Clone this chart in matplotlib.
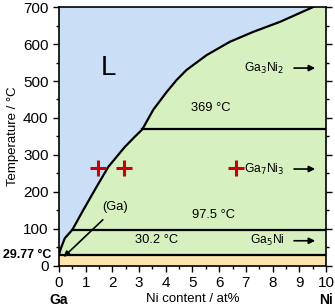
import matplotlib.pyplot as plt
from matplotlib.ticker import MultipleLocator

plt.rcParams['font.family'] = ['Liberation Sans', 'DejaVu Sans']

# liquidus (Ni content at%, temperature °C)
liq_x = [0, 0.075, 0.22, 0.5, 0.91, 1.41, 1.85, 2.47, 2.85, 3.12,
         3.53, 4.03, 4.41, 4.78, 5.53, 6.40, 7.28, 8.28, 9.52]
liq_t = [29.77, 48, 75, 97.5, 151, 214, 268, 322, 350, 369,
         422, 470, 503, 530, 570, 606, 633, 660, 700]

# invariant lines
inv_t = [369, 97.5, 30.2]
inv_x0 = [3.12, 0.5, 0]

# measurement points
pts_x = [1.47, 2.43, 6.63]
pts_t = [264, 264, 264]

phases = ["Ga$_3$Ni$_2$", "Ga$_7$Ni$_3$", "Ga$_5$Ni"]
phase_t = [535, 262, 68]

fig = plt.figure(figsize=(3.35, 3.06), dpi=100)
ax = fig.add_axes([0.176, 0.131, 0.797, 0.846])
ax.set_xlim(0, 10)
ax.set_ylim(0, 700)
ax.set_facecolor('#cadff6')

# regions
ax.fill(liq_x + [10, 10, 0], liq_t + [700, 30.2, 30.2], color='#d6f0c0', lw=0)
ax.fill_between([0, 10], 0, 30.2, color='#fce4ae', lw=0)

ax.plot(liq_x, liq_t, color='black', lw=1.6, solid_joinstyle='round')
for t, x0 in zip(inv_t, inv_x0):
    ax.plot([x0, 10], [t, t], color='black', lw=1.6)

ax.plot(pts_x, pts_t, '+', color='#c8000a', ms=11, mew=2.2)

fs = 9.3
ax.text(1.85, 535, 'L', fontsize=20, ha='center', va='center')
ax.text(5.7, 426, '369 °C', fontsize=fs, ha='center', va='center')
ax.text(5.8, 137, '97.5 °C', fontsize=fs, ha='center', va='center')
ax.text(2.85, 70, '30.2 °C', fontsize=fs, ha='left', va='center')
ax.text(2.1, 160, '(Ga)', fontsize=fs, ha='center', va='center')
ax.annotate('', xy=(0.1, 19), xytext=(1.72, 130),
            arrowprops=dict(arrowstyle='-|>', color='black', lw=1.2, mutation_scale=8))
for name, t in zip(phases, phase_t):
    ax.text(8.45, t, name, fontsize=8.7, ha='right', va='center')
    ax.annotate('', xy=(9.7, t), xytext=(8.7, t),
                arrowprops=dict(arrowstyle='-|>', color='black', lw=1.2, mutation_scale=9))

ax.xaxis.set_major_locator(MultipleLocator(1))
ax.xaxis.set_minor_locator(MultipleLocator(0.5))
ax.yaxis.set_major_locator(MultipleLocator(100))
ax.yaxis.set_minor_locator(MultipleLocator(50))
ax.tick_params(which='both', direction='out', right=True, labelsize=11, width=1)
ax.tick_params(which='major', length=4)
ax.tick_params(which='minor', length=2.5)
for s in ax.spines.values():
    s.set_linewidth(1.2)

ax.text(-0.3, 29.77, '29.77 °C', fontsize=9, fontweight='bold', ha='right', va='center')
ax.text(0, -0.13, 'Ga', fontsize=10, fontweight='bold', ha='center', va='center',
        transform=ax.get_xaxis_transform())
ax.text(10, -0.13, 'Ni', fontsize=10, fontweight='bold', ha='center', va='center',
        transform=ax.get_xaxis_transform())
ax.set_xlabel('Ni content / at%', fontsize=9.5, labelpad=2)
ax.set_ylabel('Temperature / °C', fontsize=9.5, labelpad=3)

fig.savefig('out.png', dpi=100)
